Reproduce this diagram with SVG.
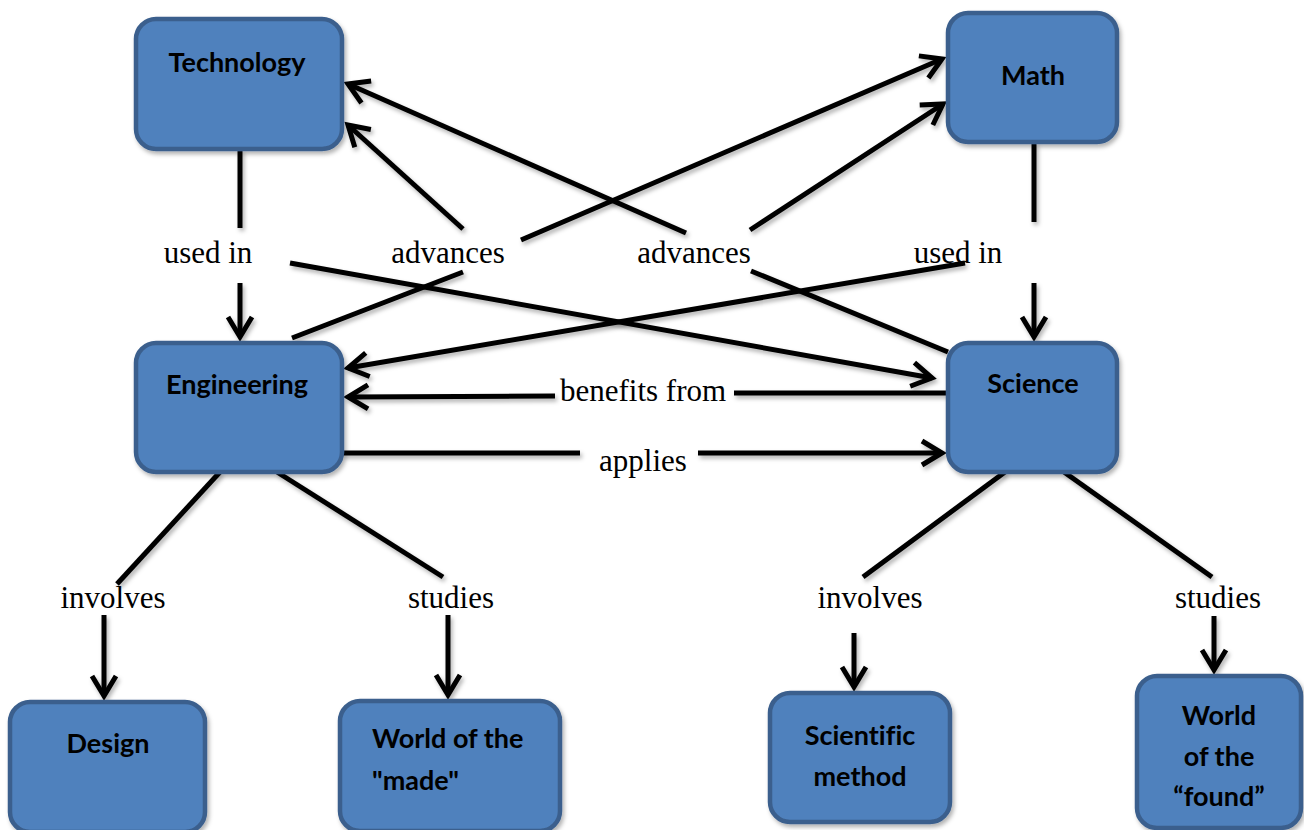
<svg xmlns="http://www.w3.org/2000/svg" width="1304" height="830" viewBox="0 0 1304 830">
<style>
.node rect{fill:#4f81bd;stroke:#3b5f8d;stroke-width:4.5;filter:url(#sh)}
.node text{font-family:Lato,"Open Sans","Liberation Sans",sans-serif;font-weight:bold;font-size:27px;fill:#000;text-anchor:middle;font-variant-ligatures:none}
.con path{fill:none;stroke:#000;stroke-width:5;filter:url(#sh)}
.con path.a{marker-end:url(#arr)}
.lbl{font-family:"Liberation Serif","Times New Roman",serif;font-size:31px;fill:#000;text-anchor:middle}
</style>
<defs>
<filter id="sh" filterUnits="userSpaceOnUse" x="0" y="0" width="1304" height="830">
<feDropShadow dx="2" dy="3" stdDeviation="2" flood-color="#000" flood-opacity="0.3"/>
</filter>
<marker id="arr" markerUnits="userSpaceOnUse" markerWidth="40" markerHeight="40" viewBox="-25 -20 40 40" refX="0" refY="0" orient="auto" overflow="visible">
<path d="M-20,-12 L0,0 L-20,12" fill="none" stroke="#000" stroke-width="5" stroke-linejoin="miter"/>
</marker>
</defs>
<rect width="1304" height="830" fill="#fff"/>
<g class="con" id="connectors">
<path d="M240,150 V228"/>
<path class="a" d="M240,283 V337"/>
<path class="a" d="M290,263 L932,378"/>
<path d="M292,338 L463,272"/>
<path class="a" d="M463,229 L348,125"/>
<path class="a" d="M521,240 L942,59"/>
<path d="M948,352 L751,271"/>
<path class="a" d="M686,233 L348,84"/>
<path class="a" d="M750,230 L943,104"/>
<path d="M1034,143 V222"/>
<path class="a" d="M1034,283 V337"/>
<path class="a" d="M965,263 L348,368"/>
<path d="M948,393 L734,393"/>
<path class="a" d="M555,396 L348,397"/>
<path d="M342,453 L580,453"/>
<path class="a" d="M698,453 L942,453"/>
<path d="M220,472 L117,584"/>
<path class="a" d="M104,615 V696"/>
<path d="M277,472 L443,577"/>
<path class="a" d="M448,615 V695"/>
<path d="M1005,472 L863,577"/>
<path class="a" d="M854,633 V687"/>
<path d="M1064,472 L1212,577"/>
<path class="a" d="M1214,616 V670"/>
</g>
<g id="labels">
<text class="lbl" x="208" y="263">used in</text>
<text class="lbl" x="448" y="263">advances</text>
<text class="lbl" x="694" y="263">advances</text>
<text class="lbl" x="958" y="263">used in</text>
<text class="lbl" x="643" y="401">benefits from</text>
<text class="lbl" x="643" y="471">applies</text>
<text class="lbl" x="113" y="608">involves</text>
<text class="lbl" x="451" y="608">studies</text>
<text class="lbl" x="870" y="608">involves</text>
<text class="lbl" x="1218" y="608">studies</text>
</g>
<g class="node" id="technology"><rect x="136" y="19" width="206" height="130" rx="20"/><text x="237" y="72">Technology</text></g>
<g class="node" id="math"><rect x="948" y="13" width="169" height="129" rx="20"/><text x="1033" y="85">Math</text></g>
<g class="node" id="engineering"><rect x="136" y="343" width="206" height="129" rx="20"/><text x="237" y="394">Engineering</text></g>
<g class="node" id="science"><rect x="948" y="343" width="169" height="129" rx="20"/><text x="1033" y="393">Science</text></g>
<g class="node" id="design"><rect x="10" y="702" width="195" height="130" rx="20"/><text x="108" y="753">Design</text></g>
<g class="node" id="world-made"><rect x="340" y="701" width="220" height="130" rx="20"/><text x="372" y="748" style="text-anchor:start">World of the</text><text x="372" y="790" style="text-anchor:start">"made"</text></g>
<g class="node" id="scientific-method"><rect x="770" y="693" width="180" height="129" rx="20"/><text x="860" y="745">Scientific</text><text x="860" y="786">method</text></g>
<g class="node" id="world-found"><rect x="1137" y="676" width="164" height="152" rx="20"/><text x="1219" y="725">World</text><text x="1219" y="766">of the</text><text x="1219" y="806">“found”</text></g>
</svg>
